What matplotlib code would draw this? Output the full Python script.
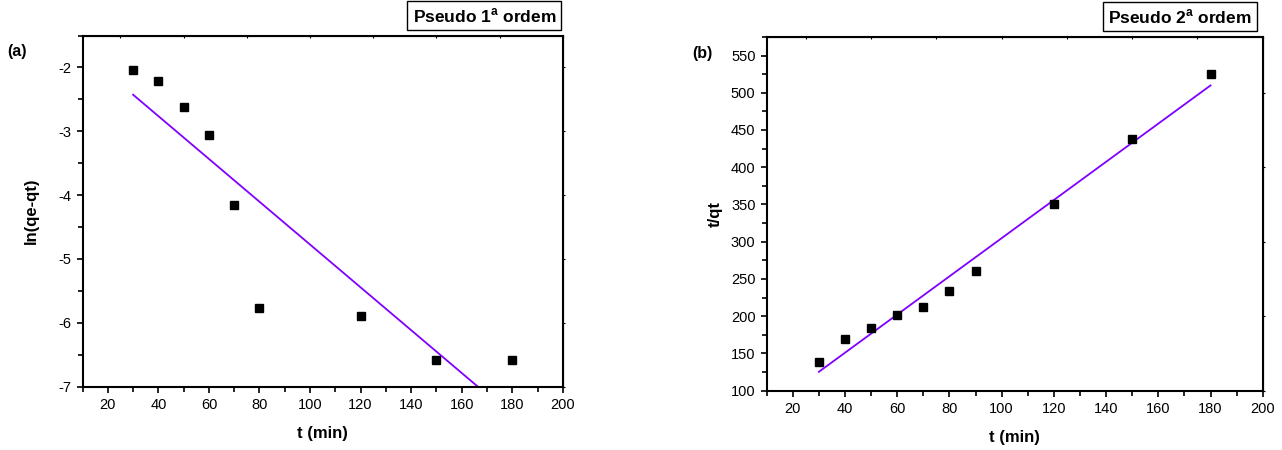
import numpy as np
import matplotlib
matplotlib.use('Agg')
import matplotlib.pyplot as plt
import matplotlib.ticker as ticker

plt.rcParams['font.family'] = ['Liberation Sans', 'DejaVu Sans']

# cinética - pseudo 1a ordem
t1 = [30, 40, 50, 60, 70, 80, 120, 150, 180]
ln_qe_qt = [-2.04, -2.22, -2.62, -3.06, -4.16, -5.77, -5.90, -6.59, -6.59]

# pseudo 2a ordem
t2 = [30, 40, 50, 60, 70, 80, 90, 120, 150, 180]
t_qt = [138.9, 168.8, 183.6, 201.4, 212.6, 234.0, 260.9, 351.1, 437.4, 525.0]

line_c = '#8000ff'

fig = plt.figure(figsize=(12.82, 4.5), dpi=100)
ax1 = fig.add_axes([0.0644, 0.141, 0.3746, 0.780])
ax2 = fig.add_axes([0.598, 0.132, 0.387, 0.786])

def style(ax):
    for s in ax.spines.values():
        s.set_linewidth(1.5)
    ax.tick_params(which='both', direction='out', width=1.2, labelsize=10.5)
    ax.tick_params(which='major', length=4.5)
    ax.tick_params(which='minor', length=3.5)
    # ticks pequenos em cima / direita
    ax.secondary_xaxis('top').tick_params(which='both', direction='in', length=1.5,
                                          width=0.8, labeltop=False)
    sy = ax.secondary_yaxis('right')
    sy.tick_params(which='both', direction='out', length=1.5, width=0.8, labelright=False)
    ax.xaxis.set_major_locator(ticker.MultipleLocator(20))
    ax.xaxis.set_minor_locator(ticker.MultipleLocator(10))
    ax.set_xlim(10, 200)
    ax.set_xlabel('t (min)', fontsize=12, fontweight='bold', labelpad=10)
    return sy

box = dict(boxstyle='square,pad=0.3', fc='white', ec='black', lw=1)

# (a)
p = np.polyfit(t1, ln_qe_qt, 1)
xx = np.array([t1[0], t1[-1]])
ax1.plot(xx, np.polyval(p, xx), color=line_c, lw=1.3)
ax1.plot(t1, ln_qe_qt, 's', color='black', ms=6)
ax1.set_ylim(-7, -1.5)
ax1.yaxis.set_major_locator(ticker.MultipleLocator(1))
ax1.yaxis.set_minor_locator(ticker.MultipleLocator(0.5))
ax1.yaxis.set_major_formatter(ticker.FuncFormatter(lambda v, pos: '%d' % v))
style(ax1)
ax1.set_ylabel('ln(qe-qt)', fontsize=12, fontweight='bold', labelpad=14)
fig.text(0.006, 0.885, '(a)', fontsize=11.5, fontweight='bold', va='center')
ax1.text(0.986, 1.03, r'Pseudo 1$^{\mathregular{a}}$ ordem', transform=ax1.transAxes,
         ha='right', va='bottom', fontsize=12.5, fontweight='bold', bbox=box)

# (b)
p2 = np.polyfit(t2, t_qt, 1)
xx2 = np.array([t2[0], t2[-1]])
ax2.plot(xx2, np.polyval(p2, xx2), color=line_c, lw=1.3)
ax2.plot(t2, t_qt, 's', color='black', ms=6)
ax2.set_ylim(100, 575)
ax2.yaxis.set_major_locator(ticker.MultipleLocator(50))
ax2.yaxis.set_minor_locator(ticker.MultipleLocator(25))
style(ax2)
ax2.set_ylabel('t/qt', fontsize=12, fontweight='bold', labelpad=6)
fig.text(0.540, 0.882, '(b)', fontsize=11.5, fontweight='bold', va='center')
ax2.text(0.978, 1.03, r'Pseudo 2$^{\mathregular{a}}$ ordem', transform=ax2.transAxes,
         ha='right', va='bottom', fontsize=12.5, fontweight='bold', bbox=box)

fig.savefig('out.png', dpi=100)
